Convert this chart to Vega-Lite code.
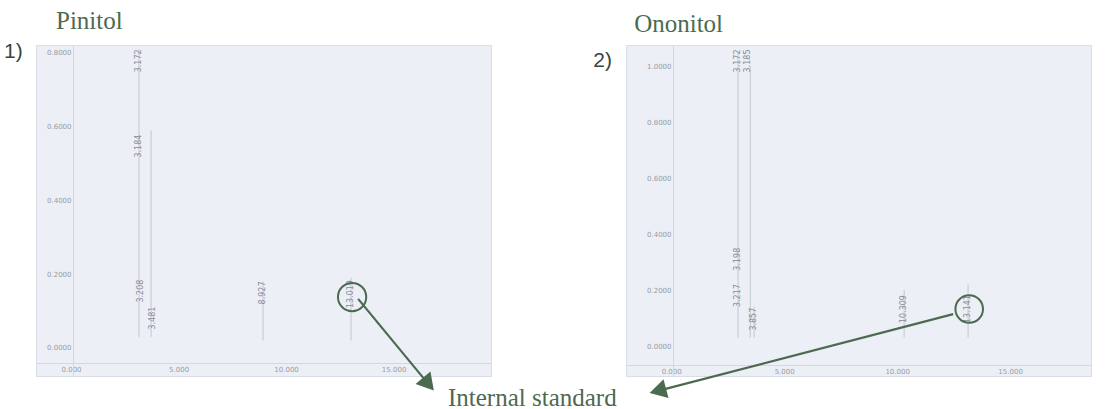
{
  "$schema": "https://vega.github.io/schema/vega-lite/v6.json",
  "autosize": {"type": "pad"},
  "padding": {"left": 3, "top": 8, "right": 0, "bottom": 0},
  "background": "white",
  "spacing": 135,
  "bounds": "flush",
  "config": {
    "view": {"fill": "#eceff5", "stroke": "#d9dde5"},
    "axis": {"title": null, "grid": false, "ticks": false, "labelFont": "DejaVu Sans", "labelFontSize": 7, "labelColor": "#979ca6", "domainColor": "#d3d7df", "labelPadding": 2}
  },
  "hconcat": [
    {
      "width": 455,
      "height": 331,
      "layer": [
        {
          "data": {"values": [
            {"rt": 3.16, "base": 0.03, "apex": 0.81},
            {"rt": 3.72, "base": 0.03, "apex": 0.59},
            {"rt": 8.93, "base": 0.02, "apex": 0.18},
            {"rt": 13.02, "base": 0.02, "apex": 0.19}
          ]},
          "mark": {"type": "rule", "color": "#c3c7cf", "strokeWidth": 1},
          "encoding": {
            "x": {"field": "rt", "type": "quantitative", "scale": {"domain": [-1.63, 19.53], "nice": false, "zero": false}, "axis": {"values": [0, 5, 10, 15], "format": ".3f", "offset": -13}},
            "y": {"field": "base", "type": "quantitative", "scale": {"domain": [-0.076, 0.821], "nice": false, "zero": false}, "axis": {"values": [0, 0.2, 0.4, 0.6, 0.8], "format": ".4f", "offset": -37}},
            "y2": {"field": "apex"}
          }
        },
        {
          "data": {"values": [
            {"rt": 3.16, "pos": 0.778, "label": "3.172"},
            {"rt": 3.16, "pos": 0.547, "label": "3.184"},
            {"rt": 3.25, "pos": 0.154, "label": "3.208"},
            {"rt": 3.81, "pos": 0.081, "label": "3.481"},
            {"rt": 8.93, "pos": 0.149, "label": "8.927"},
            {"rt": 13.02, "pos": 0.146, "label": "13.019"}
          ]},
          "mark": {"type": "text", "angle": 270, "fontSize": 8, "font": "DejaVu Sans", "color": "#868b95"},
          "encoding": {
            "x": {"field": "rt", "type": "quantitative"},
            "y": {"field": "pos", "type": "quantitative"},
            "text": {"field": "label"}
          }
        },
        {
          "data": {"values": [{"x": 13.07, "y": 0.138}]},
          "mark": {"type": "point", "shape": "circle", "size": 800, "filled": false, "stroke": "#4c6a50", "strokeWidth": 2, "opacity": 1, "clip": false},
          "encoding": {"x": {"field": "x", "type": "quantitative"}, "y": {"field": "y", "type": "quantitative"}}
        },
        {
          "data": {"values": [{"x": 13.35, "y": 0.133, "o": 1}, {"x": 16.62, "y": -0.098, "o": 2}]},
          "mark": {"type": "line", "color": "#4c6a50", "strokeWidth": 2.2, "clip": false},
          "encoding": {"x": {"field": "x", "type": "quantitative"}, "y": {"field": "y", "type": "quantitative"}, "order": {"field": "o"}}
        },
        {
          "data": {"values": [{"x": 16.62, "y": -0.098, "dir": 140}]},
          "mark": {"type": "point", "shape": "triangle-up", "size": 380, "filled": true, "color": "#4c6a50", "opacity": 1, "clip": false},
          "encoding": {"x": {"field": "x", "type": "quantitative"}, "y": {"field": "y", "type": "quantitative"}, "angle": {"field": "dir", "type": "quantitative", "scale": null}}
        },
        {
          "data": {"values": [
            {"x": -0.7, "y": 0.864, "t": "Pinitol"},
            {"x": 17.53, "y": -0.157, "t": "Internal standard"}
          ]},
          "mark": {"type": "text", "align": "left", "baseline": "alphabetic", "font": "Liberation Serif", "fontSize": 25, "color": "#4c6a50", "clip": false},
          "encoding": {"x": {"field": "x", "type": "quantitative"}, "y": {"field": "y", "type": "quantitative"}, "text": {"field": "t"}}
        },
        {
          "data": {"values": [{"x": -3.12, "y": 0.786, "t": "1)"}]},
          "mark": {"type": "text", "align": "left", "baseline": "alphabetic", "font": "Liberation Sans", "fontSize": 21, "color": "#3a4541", "clip": false},
          "encoding": {"x": {"field": "x", "type": "quantitative"}, "y": {"field": "y", "type": "quantitative"}, "text": {"field": "t"}}
        }
      ]
    },
    {
      "width": 465,
      "height": 331,
      "layer": [
        {
          "data": {"values": [
            {"rt": 2.96, "base": 0.03, "apex": 1.05},
            {"rt": 3.5, "base": 0.03, "apex": 1.0},
            {"rt": 3.67, "base": 0.03, "apex": 0.14},
            {"rt": 10.31, "base": 0.03, "apex": 0.2},
            {"rt": 13.14, "base": 0.03, "apex": 0.22}
          ]},
          "mark": {"type": "rule", "color": "#c3c7cf", "strokeWidth": 1},
          "encoding": {
            "x": {"field": "rt", "type": "quantitative", "scale": {"domain": [-2.0, 18.58], "nice": false, "zero": false}, "axis": {"values": [0, 5, 10, 15], "format": ".3f", "offset": -11}},
            "y": {"field": "base", "type": "quantitative", "scale": {"domain": [-0.107, 1.075], "nice": false, "zero": false}, "axis": {"values": [0, 0.2, 0.4, 0.6, 0.8, 1.0], "format": ".4f", "offset": -47}},
            "y2": {"field": "apex"}
          }
        },
        {
          "data": {"values": [
            {"rt": 2.96, "pos": 1.018, "label": "3.172"},
            {"rt": 3.4, "pos": 1.018, "label": "3.185"},
            {"rt": 2.96, "pos": 0.31, "label": "3.198"},
            {"rt": 2.96, "pos": 0.18, "label": "3.217"},
            {"rt": 3.67, "pos": 0.096, "label": "3.857"},
            {"rt": 10.31, "pos": 0.132, "label": "10.309"},
            {"rt": 13.14, "pos": 0.132, "label": "13.141"}
          ]},
          "mark": {"type": "text", "angle": 270, "fontSize": 8, "font": "DejaVu Sans", "color": "#868b95"},
          "encoding": {
            "x": {"field": "rt", "type": "quantitative"},
            "y": {"field": "pos", "type": "quantitative"},
            "text": {"field": "label"}
          }
        },
        {
          "data": {"values": [{"x": 13.19, "y": 0.132}]},
          "mark": {"type": "point", "shape": "circle", "size": 760, "filled": false, "stroke": "#4c6a50", "strokeWidth": 2, "opacity": 1, "clip": false},
          "encoding": {"x": {"field": "x", "type": "quantitative"}, "y": {"field": "y", "type": "quantitative"}}
        },
        {
          "data": {"values": [{"x": 12.48, "y": 0.114, "o": 1}, {"x": -0.59, "y": -0.16, "o": 2}]},
          "mark": {"type": "line", "color": "#4c6a50", "strokeWidth": 2.2, "clip": false},
          "encoding": {"x": {"field": "x", "type": "quantitative"}, "y": {"field": "y", "type": "quantitative"}, "order": {"field": "o"}}
        },
        {
          "data": {"values": [{"x": -0.59, "y": -0.16, "dir": 255}]},
          "mark": {"type": "point", "shape": "triangle-up", "size": 380, "filled": true, "color": "#4c6a50", "opacity": 1, "clip": false},
          "encoding": {"x": {"field": "x", "type": "quantitative"}, "y": {"field": "y", "type": "quantitative"}, "angle": {"field": "dir", "type": "quantitative", "scale": null}}
        },
        {
          "data": {"values": [{"x": -1.64, "y": 1.121, "t": "Ononitol"}]},
          "mark": {"type": "text", "align": "left", "baseline": "alphabetic", "font": "Liberation Serif", "fontSize": 25, "color": "#4c6a50", "clip": false},
          "encoding": {"x": {"field": "x", "type": "quantitative"}, "y": {"field": "y", "type": "quantitative"}, "text": {"field": "t"}}
        },
        {
          "data": {"values": [{"x": -3.45, "y": 0.996, "t": "2)"}]},
          "mark": {"type": "text", "align": "left", "baseline": "alphabetic", "font": "Liberation Sans", "fontSize": 21, "color": "#3a4541", "clip": false},
          "encoding": {"x": {"field": "x", "type": "quantitative"}, "y": {"field": "y", "type": "quantitative"}, "text": {"field": "t"}}
        }
      ]
    }
  ]
}
